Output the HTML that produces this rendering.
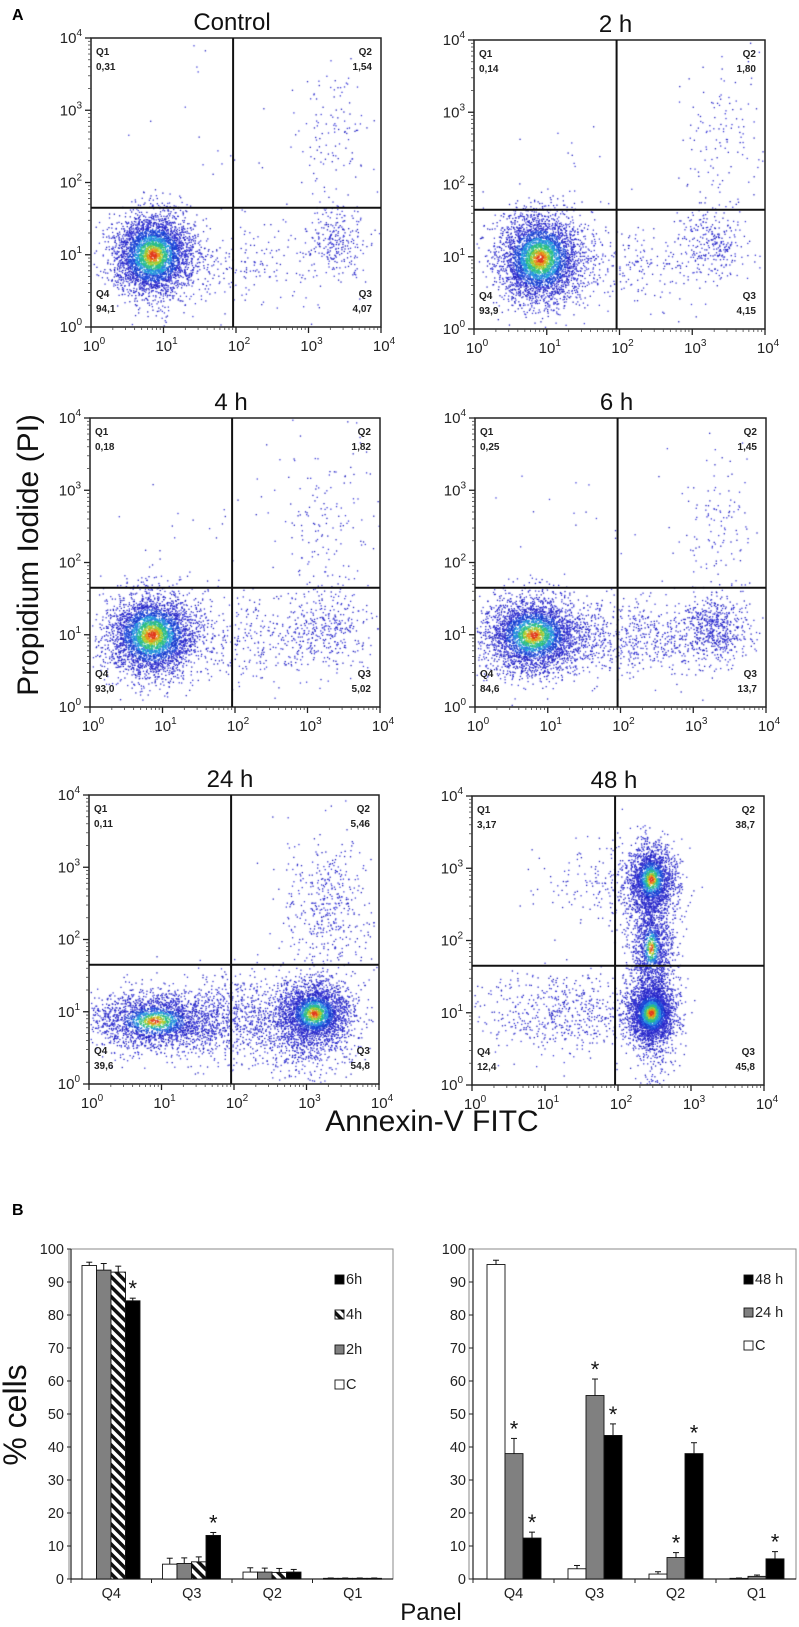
<!DOCTYPE html>
<html><head><meta charset="utf-8">
<style>
html,body{margin:0;padding:0;background:#fff;}
#wrap{position:relative;width:799px;height:1627px;overflow:hidden;font-family:"Liberation Sans",Arial,sans-serif;}
canvas,svg{position:absolute;left:0;top:0;}
</style></head>
<body>
<div id="wrap">
<canvas id="dots" width="799" height="1627"></canvas>
<svg id="fig" width="799" height="1627" xmlns="http://www.w3.org/2000/svg"></svg>
</div>
<script>
// ---------- Flow cytometry panel data ----------
const panelTitles = ["Control","2 h","4 h","6 h","24 h","48 h"];
const quadQ1 = ["0,31","0,14","0,18","0,25","0,11","3,17"];
const quadQ2 = ["1,54","1,80","1,82","1,45","5,46","38,7"];
const quadQ3 = ["4,07","4,15","5,02","13,7","54,8","45,8"];
const quadQ4 = ["94,1","93,9","93,0","84,6","39,6","12,4"];
const decadeTicks = ["0","1","2","3","4"];
// clusters per panel: [xLog, yLog, sdX, sdY, count, heat(0..1)]
const clustersControl = [[0.85,1.0,0.27,0.28,3800,1],[3.35,1.2,0.2,0.25,260,0],[3.35,2.7,0.25,0.5,110,0],[2.1,0.9,0.6,0.3,220,0],[1.8,2.5,0.8,0.6,25,0]];
const clusters2h = [[0.9,0.98,0.28,0.3,3800,1],[3.3,1.2,0.22,0.25,260,0],[3.4,2.6,0.3,0.5,130,0],[2.1,0.9,0.6,0.3,260,0],[1.5,2.0,0.5,0.5,20,0]];
const clusters4h = [[0.85,1.0,0.3,0.28,3700,1],[3.3,1.1,0.3,0.28,320,0],[3.3,2.6,0.35,0.55,140,0],[2.2,0.95,0.65,0.3,360,0],[1.6,2.5,0.6,0.5,25,0]];
const clusters6h = [[0.8,1.0,0.33,0.26,3400,0.9],[3.3,1.1,0.22,0.22,520,0],[3.3,2.6,0.25,0.5,120,0],[2.2,0.95,0.7,0.25,700,0],[1.6,2.5,0.6,0.5,20,0]];
const clusters24h = [[0.9,0.88,0.45,0.2,2300,0.7],[3.1,0.98,0.25,0.22,2600,0.8],[3.3,2.45,0.3,0.5,450,0],[2.1,0.9,0.5,0.3,900,0],[3.0,0.5,0.3,0.25,300,0]];
const clusters48h = [[2.45,1.0,0.16,0.2,2600,0.85],[2.45,2.85,0.17,0.25,1900,0.75],[2.45,1.9,0.15,0.4,1500,0.55],[1.3,1.0,0.6,0.28,600,0],[1.8,2.75,0.45,0.3,170,0],[2.5,0.5,0.15,0.3,200,0]];
const allClusters = [clustersControl,clusters2h,clusters4h,clusters6h,clusters24h,clusters48h];
// layout
const panelLayout = [[91,38,290],[474,40,291],[90,418,290],[475,418,291],[89,795,290],[472,796,292]];
const PH = 289, GATE_X = 2.0 - 0.04, GATE_Y = 1.65;

// ---------- Bar chart data ----------
const barCats = ["Q4","Q3","Q2","Q1"];
const leftSeries = ["C","2h","4h","6h"];
const leftC = [95.0,4.5,2.1,0.2];
const left2h = [93.6,4.7,2.1,0.2];
const left4h = [93.0,5.2,2.0,0.2];
const left6h = [84.3,13.2,2.1,0.2];
const leftErrC = [1.0,1.8,1.3,0.1];
const leftErr2h = [2.0,1.7,1.2,0.1];
const leftErr4h = [1.8,1.5,1.2,0.1];
const leftErr6h = [0.8,0.9,0.8,0.1];
const leftStars6h = [1,1,0,0];
const rightSeries = ["C","24 h","48 h"];
const rightC = [95.3,3.1,1.5,0.2];
const right24 = [38.0,55.6,6.5,0.8];
const right48 = [12.4,43.5,38.0,6.1];
const rightErrC = [1.3,1.0,0.7,0.1];
const rightErr24 = [4.6,5.0,1.5,0.4];
const rightErr48 = [1.8,3.5,3.3,2.2];
const rightStars24 = [1,1,1,0];
const rightStars48 = [1,1,1,1];
const yTickVals = [0,10,20,30,40,50,60,70,80,90,100];

const NS="http://www.w3.org/2000/svg";
const svg=document.getElementById('fig');
function el(tag,attrs,parent,txt){const e=document.createElementNS(NS,tag);for(const k in attrs)e.setAttribute(k,attrs[k]);if(txt!==undefined)e.textContent=txt;(parent||svg).appendChild(e);return e;}

let seed=12345;
function rnd(){seed|=0;seed=seed+0x6D2B79F5|0;let t=Math.imul(seed^seed>>>15,1|seed);t=t+Math.imul(t^t>>>7,61|t)^t;return((t^t>>>14)>>>0)/4294967296;}
function gauss(){let u=0,v=0;while(u===0)u=rnd();v=rnd();return Math.sqrt(-2*Math.log(u))*Math.cos(2*Math.PI*v);}

const ctx=document.getElementById('dots').getContext('2d');

panelTitles.forEach((title,pi)=>{
  const [ox,oy,w]=panelLayout[pi];
  const sx=v=>ox+v/4*w, sy=v=>oy+PH-v/4*PH;
  const g=el('g',{},svg);
  
  
  const pts=[];
  allClusters[pi].forEach(c=>{
    for(let i=0;i<c[4];i++){
      const a=gauss(),b=gauss();
      const x=c[0]+a*c[2], y=c[1]+b*c[3];
      if(x<0.02||x>3.98||y<0.02||y>3.98)continue;
      const d=Math.sqrt(a*a+b*b);
      pts.push([x,y,c[5]?d/c[5]:99]);
    }
  });
  pts.sort((p,q)=>q[2]-p[2]);
  pts.forEach(p=>{
    const d=p[2]; let col;
    if(d<0.18)col='#e03a1c';
    else if(d<0.32)col=rnd()<0.5?'#f07a18':'#d8b020';
    else if(d<0.48)col=rnd()<0.5?'#c8d030':'#70c840';
    else if(d<0.7)col=rnd()<0.5?'#30c070':'#28b8a8';
    else if(d<0.95)col=rnd()<0.5?'#20a8d8':'#2878e0';
    else if(d<1.3)col=rnd()<0.5?'#2050e0':'#1838c8';
    else col=rnd()<0.5?'#2020c0':'#3838d8';
    ctx.fillStyle=col;ctx.fillRect(sx(p[0]),sy(p[1]),1.3,1.3);
  });
  const t=el('text',{x:ox+w/2-4,y:oy-8,'font-size':24,'text-anchor':'middle',fill:'#111'},g,title);
  
  const fr=el('rect',{x:ox,y:oy,width:w,height:PH,fill:'none',stroke:'#222','stroke-width':1.5},g);
  
  const gv=el('line',{x1:sx(GATE_X),x2:sx(GATE_X),y1:oy,y2:oy+PH,stroke:'#111','stroke-width':2},g);
  
  const gh=el('line',{x1:ox,x2:ox+w,y1:sy(GATE_Y),y2:sy(GATE_Y),stroke:'#111','stroke-width':2},g);
  
  decadeTicks.forEach((d,k)=>{
    const v=+d;
    el('line',{x1:ox-6,x2:ox,y1:sy(v),y2:sy(v),stroke:'#222','stroke-width':1.3},g);
    el('line',{x1:sx(v),x2:sx(v),y1:oy+PH,y2:oy+PH+6,stroke:'#222','stroke-width':1.3},g);
    if(k<4){for(let m=2;m<10;m++){const f=v+Math.log10(m);
      el('line',{x1:ox-3,x2:ox,y1:sy(f),y2:sy(f),stroke:'#444','stroke-width':0.8},g);
      el('line',{x1:sx(f),x2:sx(f),y1:oy+PH,y2:oy+PH+3,stroke:'#444','stroke-width':0.8},g);}}
    const yl=el('text',{x:ox-9,y:sy(v)+5,'font-size':15,'text-anchor':'end',fill:'#222'},g);
    
    el('tspan',{},yl,'10');el('tspan',{'font-size':10,dy:-7},yl,d);
    const xl=el('text',{x:sx(v)+3,y:oy+PH+24,'font-size':15,'text-anchor':'middle',fill:'#222'},g);
    
    el('tspan',{},xl,'10');el('tspan',{'font-size':10,dy:-7},xl,d);
  });
  const ql=(x,y,a,s1,s2,name)=>{const q=el('text',{x:x,y:y,'font-size':10,'font-weight':'bold','text-anchor':a,fill:'#222'},g);
    
    el('tspan',{x:x},q,s1);el('tspan',{x:x,dy:15},q,s2);};
  ql(ox+5,oy+17,'start','Q1',quadQ1[pi],'quadrant-q1-label');
  ql(ox+w-9,oy+17,'end','Q2',quadQ2[pi],'quadrant-q2-label');
  ql(ox+w-9,oy+PH-30,'end','Q3',quadQ3[pi],'quadrant-q3-label');
  ql(ox+5,oy+PH-30,'start','Q4',quadQ4[pi],'quadrant-q4-label');
});

let tx=el('text',{x:12,y:20,'font-size':16,'font-weight':'bold'},svg,'A');
tx=el('text',{x:12,y:1215,'font-size':16,'font-weight':'bold'},svg,'B');
tx=el('text',{x:0,y:0,'font-size':30,'text-anchor':'middle',transform:'translate(38,555) rotate(-90)',fill:'#111'},svg,'Propidium Iodide (PI)');
tx=el('text',{x:432,y:1131,'font-size':30,'text-anchor':'middle',fill:'#111'},svg,'Annexin-V FITC');
tx=el('text',{x:0,y:0,'font-size':32,'text-anchor':'middle',transform:'translate(26,1415) rotate(-90)',fill:'#111'},svg,'% cells');
tx=el('text',{x:431,y:1620,'font-size':24,'text-anchor':'middle',fill:'#111'},svg,'Panel');

const defs=el('defs',{},svg);
const pat=el('pattern',{id:'hatch',patternUnits:'userSpaceOnUse',width:7,height:7,patternTransform:'rotate(-45)'},defs);
el('rect',{x:0,y:0,width:7,height:7,fill:'#fff'},pat);
el('rect',{x:0,y:0,width:3.5,height:7,fill:'#111'},pat);

function barChart(name,frameX0,frameX1,axisX,catW,barOff,barW,series,fills,errs,stars,legendX,legendY,legendStep,legendLabels,legendFills){
  const y0=1579,y100=1249;
  const ys=v=>y0-(v/100)*(y0-y100);
  const g=el('g',{},svg);
  const fr=el('rect',{x:frameX0,y:y100,width:frameX1-frameX0,height:y0-y100,fill:'none',stroke:'#888','stroke-width':1},g);
  
  el('line',{x1:axisX,x2:axisX,y1:y100,y2:y0,stroke:'#222','stroke-width':1.2},g);
  el('line',{x1:axisX,x2:frameX1,y1:y0,y2:y0,stroke:'#222','stroke-width':1.2},g);
  yTickVals.forEach(v=>{
    el('line',{x1:axisX-4,x2:axisX,y1:ys(v),y2:ys(v),stroke:'#222'},g);
    const l=el('text',{x:axisX-7,y:ys(v)+5,'font-size':14.5,'text-anchor':'end',fill:'#222'},g,String(v));
    
  });
  barCats.forEach((c,i)=>{
    const cx=axisX+catW*i;
    el('line',{x1:cx,x2:cx,y1:y0,y2:y0+4,stroke:'#222'},g);
    const l=el('text',{x:cx+catW/2,y:y0+19,'font-size':14.5,'text-anchor':'middle',fill:'#222'},g,c);
    
    series.forEach((s,j)=>{
      const x=cx+barOff+barW*j, v=s[i], yt=ys(v);
      el('line',{x1:x+barW/2,x2:x+barW/2,y1:yt,y2:ys(v+errs[j][i]),stroke:'#111','stroke-width':1},g);
      el('line',{x1:x+barW/2-3,x2:x+barW/2+3,y1:ys(v+errs[j][i]),y2:ys(v+errs[j][i]),stroke:'#111','stroke-width':1},g);
      const r=el('rect',{x:x,y:yt,width:barW,height:Math.max(0.8,y0-yt),fill:fills[j],stroke:'#111','stroke-width':0.9},g);
      
      
      if(stars[j]&&stars[j][i]){const st=el('text',{x:x+barW/2,y:ys(v+errs[j][i])-2,'font-size':22,'text-anchor':'middle',fill:'#111'},g,'*');
        }
    });
  });
  legendLabels.slice().reverse().forEach((lab,k)=>{
    const j=legendLabels.length-1-k, y=legendY+legendStep*k;
    const lg=el('g',{},g);
    el('rect',{x:legendX,y:y-8,width:9,height:9,fill:legendFills[j],stroke:'#111','stroke-width':0.9},lg);
    el('text',{x:legendX+11,y:y+1,'font-size':14.5,fill:'#222'},lg,lab);
  });
}
barChart('bar-chart-early',69,393,71,80.5,11,14.5,[leftC,left2h,left4h,left6h],['#fff','#808080','url(#hatch)','#000'],
  [leftErrC,leftErr2h,leftErr4h,leftErr6h],[null,null,null,leftStars6h],335,1283,35,leftSeries,['#fff','#808080','url(#hatch)','#000']);
barChart('bar-chart-late',469,796,473,81,14,18,[rightC,right24,right48],['#fff','#808080','#000'],
  [rightErrC,rightErr24,rightErr48],[null,rightStars24,rightStars48],744,1283,33,rightSeries,['#fff','#808080','#000']);
</script>
</body></html>
